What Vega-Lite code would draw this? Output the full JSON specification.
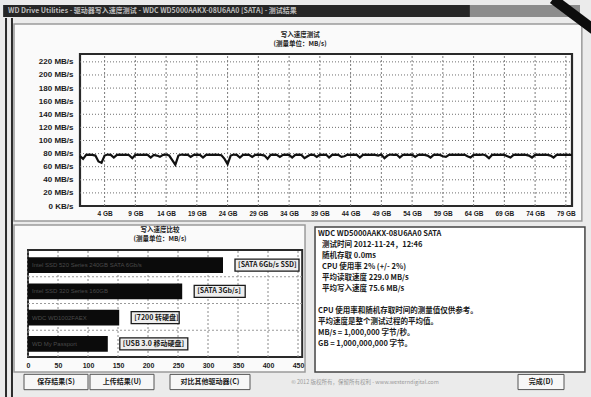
{
  "$schema": "https://vega.github.io/schema/vega-lite/v6.json",
  "width": 591,
  "height": 397,
  "padding": 0,
  "autosize": {"type": "none"},
  "background": "#ebebeb",
  "config": {"view": {"stroke": null}, "font": "Liberation Sans"},
  "resolve": {"scale": {"x": "independent", "y": "independent"}},
  "datasets": {
    "speed": [
      {"gb":0,"mbs":76},{"gb":0.5,"mbs":72},{"gb":1,"mbs":78},{"gb":1.5,"mbs":78.5},{"gb":2,"mbs":78},{"gb":2.5,"mbs":77},{"gb":3,"mbs":68},{"gb":3.5,"mbs":66},{"gb":4,"mbs":77},{"gb":4.5,"mbs":78.5},
      {"gb":5,"mbs":78},{"gb":5.5,"mbs":74},{"gb":6,"mbs":78},{"gb":6.5,"mbs":78.5},{"gb":7,"mbs":78},{"gb":7.5,"mbs":78.5},{"gb":8,"mbs":77.5},{"gb":8.5,"mbs":73},{"gb":9,"mbs":78},{"gb":9.5,"mbs":78.5},
      {"gb":10,"mbs":78},{"gb":10.5,"mbs":78.5},{"gb":11,"mbs":78},{"gb":11.5,"mbs":74},{"gb":12,"mbs":78},{"gb":12.5,"mbs":77},{"gb":13,"mbs":75},{"gb":13.5,"mbs":78},{"gb":14,"mbs":78.5},{"gb":14.5,"mbs":77},
      {"gb":15,"mbs":70},{"gb":15.5,"mbs":63},{"gb":16,"mbs":77},{"gb":16.5,"mbs":78.5},{"gb":17,"mbs":78},{"gb":17.5,"mbs":78.5},{"gb":18,"mbs":75},{"gb":18.5,"mbs":78},{"gb":19,"mbs":78.5},{"gb":19.5,"mbs":78},
      {"gb":20,"mbs":74},{"gb":20.5,"mbs":78},{"gb":21,"mbs":78.5},{"gb":21.5,"mbs":78},{"gb":22,"mbs":78.5},{"gb":22.5,"mbs":78},{"gb":23,"mbs":77.5},{"gb":23.5,"mbs":72},{"gb":24,"mbs":64},{"gb":24.5,"mbs":77},
      {"gb":25,"mbs":78.5},{"gb":25.5,"mbs":78},{"gb":26,"mbs":74},{"gb":26.5,"mbs":78},{"gb":27,"mbs":78.5},{"gb":27.5,"mbs":78},{"gb":28,"mbs":75},{"gb":28.5,"mbs":78},{"gb":29,"mbs":78.5},{"gb":29.5,"mbs":78},
      {"gb":30,"mbs":77},{"gb":30.5,"mbs":72},{"gb":31,"mbs":78},{"gb":31.5,"mbs":78.5},{"gb":32,"mbs":78},{"gb":32.5,"mbs":75},{"gb":33,"mbs":78},{"gb":33.5,"mbs":78.5},{"gb":34,"mbs":78},{"gb":34.5,"mbs":74},
      {"gb":35,"mbs":78},{"gb":35.5,"mbs":78.5},{"gb":36,"mbs":78},{"gb":36.5,"mbs":73},{"gb":37,"mbs":76},{"gb":37.5,"mbs":78.5},{"gb":38,"mbs":78},{"gb":38.5,"mbs":75},{"gb":39,"mbs":78.5},{"gb":39.5,"mbs":78},
      {"gb":40,"mbs":78.5},{"gb":40.5,"mbs":74},{"gb":41,"mbs":78},{"gb":41.5,"mbs":78.5},{"gb":42,"mbs":78},{"gb":42.5,"mbs":75},{"gb":43,"mbs":76},{"gb":43.5,"mbs":78.5},{"gb":44,"mbs":78},{"gb":44.5,"mbs":78.5},
      {"gb":45,"mbs":78},{"gb":45.5,"mbs":74},{"gb":46,"mbs":78},{"gb":46.5,"mbs":78.5},{"gb":47,"mbs":78},{"gb":47.5,"mbs":78.5},{"gb":48,"mbs":78},{"gb":48.5,"mbs":77},{"gb":49,"mbs":78.5},{"gb":49.5,"mbs":73},
      {"gb":50,"mbs":77},{"gb":50.5,"mbs":78.5},{"gb":51,"mbs":78},{"gb":51.5,"mbs":78.5},{"gb":52,"mbs":74},{"gb":52.5,"mbs":78},{"gb":53,"mbs":78.5},{"gb":53.5,"mbs":78},{"gb":54,"mbs":78.5},{"gb":54.5,"mbs":75},
      {"gb":55,"mbs":78},{"gb":55.5,"mbs":78.5},{"gb":56,"mbs":78},{"gb":56.5,"mbs":77},{"gb":57,"mbs":74},{"gb":57.5,"mbs":78},{"gb":58,"mbs":78.5},{"gb":58.5,"mbs":78},{"gb":59,"mbs":76},{"gb":59.5,"mbs":75},
      {"gb":60,"mbs":78},{"gb":60.5,"mbs":78.5},{"gb":61,"mbs":78},{"gb":61.5,"mbs":78.5},{"gb":62,"mbs":78},{"gb":62.5,"mbs":78.5},{"gb":63,"mbs":76},{"gb":63.5,"mbs":74},{"gb":64,"mbs":78},{"gb":64.5,"mbs":78.5},
      {"gb":65,"mbs":78},{"gb":65.5,"mbs":78.5},{"gb":66,"mbs":77},{"gb":66.5,"mbs":73},{"gb":67,"mbs":78},{"gb":67.5,"mbs":78.5},{"gb":68,"mbs":78},{"gb":68.5,"mbs":78.5},{"gb":69,"mbs":78},{"gb":69.5,"mbs":76},
      {"gb":70,"mbs":74},{"gb":70.5,"mbs":78},{"gb":71,"mbs":78.5},{"gb":71.5,"mbs":78},{"gb":72,"mbs":78.5},{"gb":72.5,"mbs":78},{"gb":73,"mbs":77},{"gb":73.5,"mbs":74},{"gb":74,"mbs":78},{"gb":74.5,"mbs":78.5},
      {"gb":75,"mbs":78},{"gb":75.5,"mbs":78.5},{"gb":76,"mbs":78},{"gb":76.5,"mbs":77},{"gb":77,"mbs":74},{"gb":77.5,"mbs":78},{"gb":78,"mbs":78.5},{"gb":78.5,"mbs":78},{"gb":79,"mbs":78.5},{"gb":79.5,"mbs":78},{"gb":80,"mbs":78}
    ],
    "gridY": [{"v":20},{"v":40},{"v":60},{"v":80},{"v":100},{"v":120},{"v":140},{"v":160},{"v":180},{"v":200},{"v":220}],
    "gridX": [{"v":4},{"v":9},{"v":14},{"v":19},{"v":24},{"v":29},{"v":34},{"v":39},{"v":44},{"v":49},{"v":54},{"v":59},{"v":64},{"v":69},{"v":74},{"v":79}],
    "gridB": [{"v":0},{"v":50},{"v":100},{"v":150},{"v":200},{"v":250},{"v":300},{"v":350},{"v":400},{"v":450}],
    "gridBH": [{"v":0.25},{"v":0.5},{"v":0.75}],
    "bars": [
      {"drive":"b1","speed":325,"label":"[SATA 6Gb/s SSD]","inner":"Intel SSD 520 Series 240GB  SATA 6Gb/s"},
      {"drive":"b2","speed":257,"label":"[SATA 3Gb/s]","inner":"Intel SSD 320 Series 160GB"},
      {"drive":"b3","speed":152,"label":"[7200 转硬盘]","inner":"WDC WD1002FAEX"},
      {"drive":"b4","speed":133,"label":"[USB 3.0 移动硬盘]","inner":"WD My Passport"}
    ],
    "info": [
      {"row":0,"level":0,"text":"WDC WD5000AAKX-08U6AA0 SATA"},
      {"row":1,"level":1.5,"text":"测试时间 2012-11-24，12:46"},
      {"row":2,"level":1.5,"text":"随机存取 0.0ms"},
      {"row":3,"level":1.5,"text":"CPU 使用率 2% (+/- 2%)"},
      {"row":4,"level":1.5,"text":"平均读取速度 229.0 MB/s"},
      {"row":5,"level":1.5,"text":"平均写入速度 75.6 MB/s"},
      {"row":7,"level":0,"text":"CPU 使用率和随机存取时间的测量值仅供参考。"},
      {"row":8,"level":0,"text":"平均速度是整个测试过程的平均值。"},
      {"row":9,"level":0,"text":"MB/s = 1,000,000 字节/秒。"},
      {"row":10,"level":0,"text":"GB = 1,000,000,000 字节。"}
    ],
    "buttons": [
      {"order":1,"text":"保存结果(S)"},
      {"order":2,"text":"上传结果(U)"},
      {"order":3,"text":"对比其他驱动器(C)"},
      {"order":4,"text":"© 2012 版权所有，保留所有权利 - www.westerndigital.com"},
      {"order":5,"text":"完成(D)"}
    ]
  },
  "layer": [
    {
      "data": {"values": [{}]},
      "mark": {"type": "rect", "fill": "#fafafa", "stroke": "#9a9a9a", "strokeWidth": 1.5},
      "encoding": {
        "x": {"datum": -10.73, "type": "quantitative", "scale": {"domain": [0, 80], "range": [80, 572], "nice": false, "zero": false}, "axis": null},
        "x2": {"datum": 81.6},
        "y": {"datum": 277.8, "type": "quantitative", "scale": {"domain": [0, 232], "range": [206, 54], "nice": false, "zero": false}, "axis": null},
        "y2": {"datum": -22.9}
      }
    },
    {
      "data": {"values": [{}]},
      "mark": {"type": "rect", "fill": "#fafafa", "stroke": "#9a9a9a", "strokeWidth": 1.5},
      "encoding": {
        "x": {"datum": -23.3, "type": "quantitative", "scale": {"domain": [0, 457], "range": [28, 302.2], "nice": false, "zero": false}, "axis": null},
        "x2": {"datum": 461.7},
        "y": {"datum": 1.234, "type": "quantitative", "scale": {"domain": [0, 1], "range": [357, 250], "nice": false, "zero": false}, "axis": null},
        "y2": {"datum": -0.14}
      }
    },
    {
      "data": {"values": [{}]},
      "mark": {"type": "rect", "fill": "#ffffff", "stroke": "#444444", "strokeWidth": 1.5},
      "encoding": {
        "x": {"datum": -1.1, "type": "quantitative", "scale": {"domain": [0, 100], "range": [318, 589], "nice": false, "zero": false}, "axis": null},
        "x2": {"datum": 98.5},
        "y": {"datum": -0.64, "type": "quantitative", "scale": {"domain": [0, 10], "range": [234, 344], "nice": false, "zero": false}, "axis": null},
        "y2": {"datum": 12.55}
      }
    },
    {
      "data": {"values": [{}]},
      "mark": {"type": "rect", "fill": "#ffffff", "stroke": "#2a2a2a", "strokeWidth": 2.2},
      "encoding": {
        "x": {"datum": 0, "type": "quantitative", "scale": {"domain": [0, 80], "range": [80, 572], "nice": false, "zero": false}, "axis": null},
        "x2": {"datum": 80},
        "y": {"datum": 0, "type": "quantitative", "scale": {"domain": [0, 232], "range": [206, 54], "nice": false, "zero": false}, "axis": null},
        "y2": {"datum": 232}
      }
    },
    {
      "data": {"name": "gridY"},
      "mark": {"type": "rule", "stroke": "#6f6f6f", "strokeWidth": 1, "strokeDash": [1, 2]},
      "encoding": {
        "x": {"datum": 0, "type": "quantitative", "scale": {"domain": [0, 80], "range": [80, 572], "nice": false, "zero": false}, "axis": null},
        "x2": {"datum": 80},
        "y": {"field": "v", "type": "quantitative", "scale": {"domain": [0, 232], "range": [206, 54], "nice": false, "zero": false},
          "axis": {"orient": "left", "offset": -77, "zindex": 2, "values": [0, 20, 40, 60, 80, 100, 120, 140, 160, 180, 200, 220], "labelExpr": "datum.value == 0 ? '0 KB/s' : datum.value + ' MB/s'", "domain": false, "ticks": false, "tickSize": 0, "grid": false, "title": null, "labelPadding": 4, "labelFont": "Liberation Sans", "labelFontSize": 8, "labelFontWeight": "bold", "labelColor": "#1a1a1a", "labelOverlap": false, "labelFlush": false}}
      }
    },
    {
      "data": {"name": "gridX"},
      "mark": {"type": "rule", "stroke": "#7a7a7a", "strokeWidth": 1, "strokeDash": [2, 2]},
      "encoding": {
        "x": {"field": "v", "type": "quantitative", "scale": {"domain": [0, 80], "range": [80, 572], "nice": false, "zero": false},
          "axis": {"orient": "bottom", "offset": -191, "zindex": 2, "values": [4, 9, 14, 19, 24, 29, 34, 39, 44, 49, 54, 59, 64, 69, 74, 79], "labelExpr": "datum.value + ' GB'", "domain": false, "ticks": false, "tickSize": 0, "grid": false, "title": null, "labelPadding": 4, "labelFont": "Liberation Sans", "labelFontSize": 6.5, "labelFontWeight": "bold", "labelColor": "#1a1a1a", "labelOverlap": false, "labelFlush": false}},
        "y": {"datum": 0, "type": "quantitative", "scale": {"domain": [0, 232], "range": [206, 54], "nice": false, "zero": false}, "axis": null},
        "y2": {"datum": 232}
      }
    },
    {
      "data": {"name": "speed"},
      "mark": {"type": "line", "stroke": "#111111", "strokeWidth": 2.2},
      "encoding": {
        "x": {"field": "gb", "type": "quantitative", "scale": {"domain": [0, 80], "range": [80, 572], "nice": false, "zero": false}, "axis": null},
        "y": {"field": "mbs", "type": "quantitative", "scale": {"domain": [0, 232], "range": [206, 54], "nice": false, "zero": false}, "axis": null}
      }
    },
    {
      "data": {"values": [{}]},
      "mark": {"type": "text", "font": "Noto Sans CJK SC", "fontSize": 6.5, "fontWeight": "bold", "fill": "#222222", "align": "center", "baseline": "top", "lineHeight": 9},
      "encoding": {
        "x": {"datum": 35.8, "type": "quantitative", "scale": {"domain": [0, 80], "range": [80, 572], "nice": false, "zero": false}, "axis": null},
        "y": {"datum": 265, "type": "quantitative", "scale": {"domain": [0, 232], "range": [206, 54], "nice": false, "zero": false}, "axis": null},
        "text": {"value": ["写入速度测试", "(测量单位：MB/s)"]}
      }
    },
    {
      "data": {"values": [{}]},
      "mark": {"type": "rect", "fill": "#ffffff", "stroke": "#2a2a2a", "strokeWidth": 2},
      "encoding": {
        "x": {"datum": 0, "type": "quantitative", "scale": {"domain": [0, 457], "range": [28, 302.2], "nice": false, "zero": false}, "axis": null},
        "x2": {"datum": 457},
        "y": {"datum": 0, "type": "quantitative", "scale": {"domain": [0, 1], "range": [357, 250], "nice": false, "zero": false}, "axis": null},
        "y2": {"datum": 1}
      }
    },
    {
      "data": {"name": "gridB"},
      "mark": {"type": "rule", "stroke": "#8a8a8a", "strokeWidth": 1, "strokeDash": [2, 2]},
      "encoding": {
        "x": {"field": "v", "type": "quantitative", "scale": {"domain": [0, 457], "range": [28, 302.2], "nice": false, "zero": false},
          "axis": {"orient": "bottom", "offset": -40, "zindex": 2, "values": [0, 50, 100, 150, 200, 250, 300, 350, 400, 450], "domain": false, "ticks": false, "tickSize": 0, "grid": false, "title": null, "labelPadding": 4, "labelFont": "Liberation Sans", "labelFontSize": 7, "labelFontWeight": "bold", "labelColor": "#1a1a1a", "labelOverlap": false, "labelFlush": false}},
        "y": {"datum": 0, "type": "quantitative", "scale": {"domain": [0, 1], "range": [357, 250], "nice": false, "zero": false}, "axis": null},
        "y2": {"datum": 1}
      }
    },
    {
      "data": {"name": "gridBH"},
      "mark": {"type": "rule", "stroke": "#9a9a9a", "strokeWidth": 1, "strokeDash": [2, 2]},
      "encoding": {
        "x": {"datum": 0, "type": "quantitative", "scale": {"domain": [0, 457], "range": [28, 302.2], "nice": false, "zero": false}, "axis": null},
        "x2": {"datum": 457},
        "y": {"field": "v", "type": "quantitative", "scale": {"domain": [0, 1], "range": [357, 250], "nice": false, "zero": false}, "axis": null}
      }
    },
    {
      "data": {"name": "bars"},
      "mark": {"type": "bar", "fill": "#0b0b0b"},
      "encoding": {
        "x": {"field": "speed", "type": "quantitative", "scale": {"domain": [0, 457], "range": [28, 302.2], "nice": false, "zero": false}, "axis": null},
        "y": {"field": "drive", "type": "nominal", "sort": null, "scale": {"type": "band", "domain": ["b1", "b2", "b3", "b4"], "range": [252, 357], "paddingInner": 0.4, "paddingOuter": 0.2}, "axis": null}
      }
    },
    {
      "data": {"name": "bars"},
      "mark": {"type": "text", "font": "Liberation Sans", "fontSize": 6, "fill": "#4a4a4a", "align": "left", "baseline": "middle", "dx": 4},
      "encoding": {
        "x": {"datum": 0, "type": "quantitative", "scale": {"domain": [0, 457], "range": [28, 302.2], "nice": false, "zero": false}, "axis": null},
        "y": {"field": "drive", "type": "nominal", "sort": null, "scale": {"type": "band", "domain": ["b1", "b2", "b3", "b4"], "range": [252, 357], "paddingInner": 0.4, "paddingOuter": 0.2}, "axis": null},
        "text": {"field": "inner"}
      }
    },
    {
      "data": {"name": "bars"},
      "transform": [{"filter": "datum.drive == 'b1'"}],
      "mark": {"type": "point", "shape": "M0.24,-0.12L1.52,-0.12L1.52,0.12L0.24,0.12Z", "size": 10000, "filled": true, "fill": "#eeeeee", "stroke": "#1a1a1a", "strokeWidth": 1.3, "opacity": 1},
      "encoding": {
        "x": {"field": "speed", "type": "quantitative", "scale": {"domain": [0, 457], "range": [28, 302.2], "nice": false, "zero": false}, "axis": null},
        "y": {"field": "drive", "type": "nominal", "sort": null, "scale": {"type": "band", "domain": ["b1", "b2", "b3", "b4"], "range": [252, 357], "paddingInner": 0.4, "paddingOuter": 0.2}, "axis": null}
      }
    },
    {
      "data": {"name": "bars"},
      "transform": [{"filter": "datum.drive == 'b2'"}],
      "mark": {"type": "point", "shape": "M0.24,-0.12L1.26,-0.12L1.26,0.12L0.24,0.12Z", "size": 10000, "filled": true, "fill": "#eeeeee", "stroke": "#1a1a1a", "strokeWidth": 1.3, "opacity": 1},
      "encoding": {
        "x": {"field": "speed", "type": "quantitative", "scale": {"domain": [0, 457], "range": [28, 302.2], "nice": false, "zero": false}, "axis": null},
        "y": {"field": "drive", "type": "nominal", "sort": null, "scale": {"type": "band", "domain": ["b1", "b2", "b3", "b4"], "range": [252, 357], "paddingInner": 0.4, "paddingOuter": 0.2}, "axis": null}
      }
    },
    {
      "data": {"name": "bars"},
      "transform": [{"filter": "datum.drive == 'b3'"}],
      "mark": {"type": "point", "shape": "M0.24,-0.12L1.2,-0.12L1.2,0.12L0.24,0.12Z", "size": 10000, "filled": true, "fill": "#eeeeee", "stroke": "#1a1a1a", "strokeWidth": 1.3, "opacity": 1},
      "encoding": {
        "x": {"field": "speed", "type": "quantitative", "scale": {"domain": [0, 457], "range": [28, 302.2], "nice": false, "zero": false}, "axis": null},
        "y": {"field": "drive", "type": "nominal", "sort": null, "scale": {"type": "band", "domain": ["b1", "b2", "b3", "b4"], "range": [252, 357], "paddingInner": 0.4, "paddingOuter": 0.2}, "axis": null}
      }
    },
    {
      "data": {"name": "bars"},
      "transform": [{"filter": "datum.drive == 'b4'"}],
      "mark": {"type": "point", "shape": "M0.24,-0.12L1.6,-0.12L1.6,0.12L0.24,0.12Z", "size": 10000, "filled": true, "fill": "#eeeeee", "stroke": "#1a1a1a", "strokeWidth": 1.3, "opacity": 1},
      "encoding": {
        "x": {"field": "speed", "type": "quantitative", "scale": {"domain": [0, 457], "range": [28, 302.2], "nice": false, "zero": false}, "axis": null},
        "y": {"field": "drive", "type": "nominal", "sort": null, "scale": {"type": "band", "domain": ["b1", "b2", "b3", "b4"], "range": [252, 357], "paddingInner": 0.4, "paddingOuter": 0.2}, "axis": null}
      }
    },
    {
      "data": {"name": "bars"},
      "mark": {"type": "text", "font": "Noto Sans CJK SC", "fontSize": 7, "fontWeight": "bold", "fill": "#1a1a1a", "align": "left", "baseline": "middle", "dx": 15},
      "encoding": {
        "x": {"field": "speed", "type": "quantitative", "scale": {"domain": [0, 457], "range": [28, 302.2], "nice": false, "zero": false}, "axis": null},
        "y": {"field": "drive", "type": "nominal", "sort": null, "scale": {"type": "band", "domain": ["b1", "b2", "b3", "b4"], "range": [252, 357], "paddingInner": 0.4, "paddingOuter": 0.2}, "axis": null},
        "text": {"field": "label"}
      }
    },
    {
      "data": {"values": [{}]},
      "mark": {"type": "text", "font": "Noto Sans CJK SC", "fontSize": 6.5, "fontWeight": "bold", "fill": "#222222", "align": "center", "baseline": "top", "lineHeight": 9},
      "encoding": {
        "x": {"datum": 220, "type": "quantitative", "scale": {"domain": [0, 457], "range": [28, 302.2], "nice": false, "zero": false}, "axis": null},
        "y": {"datum": 1.215, "type": "quantitative", "scale": {"domain": [0, 1], "range": [357, 250], "nice": false, "zero": false}, "axis": null},
        "text": {"value": ["写入速度比较", "(测量单位：MB/s)"]}
      }
    },
    {
      "data": {"name": "info"},
      "mark": {"type": "text", "font": "Noto Sans CJK SC", "fontSize": 7.5, "fontWeight": "bold", "fill": "#1a1a1a", "align": "left", "baseline": "middle"},
      "encoding": {
        "x": {"field": "level", "type": "quantitative", "scale": {"domain": [0, 100], "range": [318, 589], "nice": false, "zero": false}, "axis": null},
        "y": {"field": "row", "type": "quantitative", "scale": {"domain": [0, 10], "range": [234, 344], "nice": false, "zero": false}, "axis": null},
        "text": {"field": "text"}
      }
    },
    {
      "data": {"name": "buttons"},
      "transform": [{"filter": "datum.order <= 2"}],
      "mark": {"type": "point", "shape": "M-1,-0.24L1,-0.24L1,0.24L-1,0.24Z", "size": 4096, "filled": true, "fill": "#f7f7f7", "stroke": "#555555", "strokeWidth": 1, "opacity": 1},
      "encoding": {
        "x": {"field": "order", "type": "quantitative", "scale": {"domain": [1, 2, 3, 4, 5], "range": [56, 122, 210, 365, 541], "nice": false, "zero": false}, "axis": null},
        "y": {"datum": 0, "type": "quantitative", "scale": {"domain": [0, 1], "range": [382, 372], "nice": false, "zero": false}, "axis": null}
      }
    },
    {
      "data": {"name": "buttons"},
      "transform": [{"filter": "datum.order == 3"}],
      "mark": {"type": "point", "shape": "M-1,-0.19L1,-0.19L1,0.19L-1,0.19Z", "size": 6400, "filled": true, "fill": "#f7f7f7", "stroke": "#555555", "strokeWidth": 1, "opacity": 1},
      "encoding": {
        "x": {"field": "order", "type": "quantitative", "scale": {"domain": [1, 2, 3, 4, 5], "range": [56, 122, 210, 365, 541], "nice": false, "zero": false}, "axis": null},
        "y": {"datum": 0, "type": "quantitative", "scale": {"domain": [0, 1], "range": [382, 372], "nice": false, "zero": false}, "axis": null}
      }
    },
    {
      "data": {"name": "buttons"},
      "transform": [{"filter": "datum.order == 5"}],
      "mark": {"type": "point", "shape": "M-1,-0.33L1,-0.33L1,0.33L-1,0.33Z", "size": 2116, "filled": true, "fill": "#f7f7f7", "stroke": "#555555", "strokeWidth": 1, "opacity": 1},
      "encoding": {
        "x": {"field": "order", "type": "quantitative", "scale": {"domain": [1, 2, 3, 4, 5], "range": [56, 122, 210, 365, 541], "nice": false, "zero": false}, "axis": null},
        "y": {"datum": 0, "type": "quantitative", "scale": {"domain": [0, 1], "range": [382, 372], "nice": false, "zero": false}, "axis": null}
      }
    },
    {
      "data": {"name": "buttons"},
      "transform": [{"filter": "datum.order != 4"}],
      "mark": {"type": "text", "font": "Noto Sans CJK SC", "fontSize": 7, "fontWeight": "bold", "fill": "#1a1a1a", "align": "center", "baseline": "middle"},
      "encoding": {
        "x": {"field": "order", "type": "quantitative", "scale": {"domain": [1, 2, 3, 4, 5], "range": [56, 122, 210, 365, 541], "nice": false, "zero": false}, "axis": null},
        "y": {"datum": 0, "type": "quantitative", "scale": {"domain": [0, 1], "range": [382, 372], "nice": false, "zero": false}, "axis": null},
        "text": {"field": "text"}
      }
    },
    {
      "data": {"name": "buttons"},
      "transform": [{"filter": "datum.order == 4"}],
      "mark": {"type": "text", "font": "Noto Sans CJK SC", "fontSize": 5.5, "fill": "#9a9a9a", "align": "center", "baseline": "middle"},
      "encoding": {
        "x": {"field": "order", "type": "quantitative", "scale": {"domain": [1, 2, 3, 4, 5], "range": [56, 122, 210, 365, 541], "nice": false, "zero": false}, "axis": null},
        "y": {"datum": 0, "type": "quantitative", "scale": {"domain": [0, 1], "range": [382, 372], "nice": false, "zero": false}, "axis": null},
        "text": {"field": "text"}
      }
    },
    {
      "data": {"values": [{}]},
      "mark": {"type": "rect", "fill": "#8c8c8c"},
      "encoding": {
        "x": {"datum": 63.4, "type": "quantitative", "scale": {"domain": [0, 80], "range": [80, 572], "nice": false, "zero": false}, "axis": null},
        "x2": {"datum": 81.3},
        "y": {"datum": 306.8, "type": "quantitative", "scale": {"domain": [0, 232], "range": [206, 54], "nice": false, "zero": false}, "axis": null},
        "y2": {"datum": 288.5}
      }
    },
    {
      "data": {"values": [{}]},
      "mark": {"type": "rect", "fill": "#262626"},
      "encoding": {
        "x": {"datum": -12.5, "type": "quantitative", "scale": {"domain": [0, 80], "range": [80, 572], "nice": false, "zero": false}, "axis": null},
        "x2": {"datum": 63.4},
        "y": {"datum": 306.8, "type": "quantitative", "scale": {"domain": [0, 232], "range": [206, 54], "nice": false, "zero": false}, "axis": null},
        "y2": {"datum": 288.5}
      }
    },
    {
      "data": {"values": [{}]},
      "mark": {"type": "text", "font": "Noto Sans CJK SC", "fontSize": 7, "fontWeight": "bold", "fill": "#bdbdbd", "align": "left", "baseline": "middle"},
      "encoding": {
        "x": {"datum": -11.7, "type": "quantitative", "scale": {"domain": [0, 80], "range": [80, 572], "nice": false, "zero": false}, "axis": null},
        "y": {"datum": 297.6, "type": "quantitative", "scale": {"domain": [0, 232], "range": [206, 54], "nice": false, "zero": false}, "axis": null},
        "text": {"value": "WD Drive Utilities - 驱动器写入速度测试 - WDC WD5000AAKX-08U6AA0 [SATA] - 测试结果"}
      }
    },
    {
      "data": {"values": [{"x": -12.03}, {"x": -11.06}]},
      "mark": {"type": "rule", "stroke": "#2b2b2b", "strokeWidth": 2},
      "encoding": {
        "x": {"field": "x", "type": "quantitative", "scale": {"domain": [0, 80], "range": [80, 572], "nice": false, "zero": false}, "axis": null},
        "y": {"datum": 286.9, "type": "quantitative", "scale": {"domain": [0, 232], "range": [206, 54], "nice": false, "zero": false}, "axis": null},
        "y2": {"datum": -291.5}
      }
    },
    {
      "data": {"values": [{}]},
      "mark": {"type": "rule", "stroke": "#0d0d0d", "strokeWidth": 10},
      "encoding": {
        "x": {"datum": 76.9, "type": "quantitative", "scale": {"domain": [0, 80], "range": [80, 572], "nice": false, "zero": false}, "axis": null},
        "x2": {"datum": 84.6},
        "y": {"datum": 316, "type": "quantitative", "scale": {"domain": [0, 232], "range": [206, 54], "nice": false, "zero": false}, "axis": null},
        "y2": {"datum": 262}
      }
    }
  ]
}
